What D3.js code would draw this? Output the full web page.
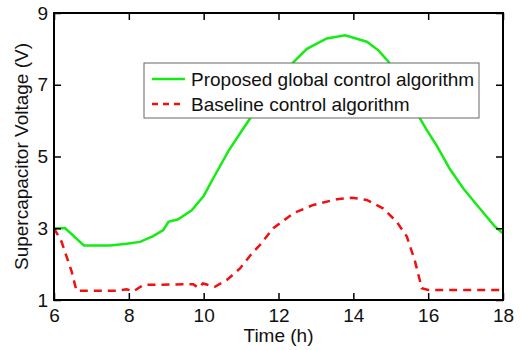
<!DOCTYPE html>
<html>
<head>
<meta charset="utf-8">
<script src="https://cdn.jsdelivr.net/npm/d3@7"></script>
<style>
  body { margin: 0; background: #fff; }
  text { font-family: "Liberation Sans", Arial, Helvetica, sans-serif; fill: #111; }
</style>
</head>
<body>
<div class="chart"></div>
<script>
// values
const proposedTime = [6, 6.3, 6.8, 7.5, 7.94, 8.3, 8.65, 8.92, 9.06, 9.32, 9.68, 10.0, 10.26, 10.66, 10.97, 11.24, 11.8, 12.4, 12.76, 13.29, 13.78, 14.36, 14.67, 14.94, 15.4, 15.78, 15.96, 16.23, 16.58, 16.94, 17.38, 17.79, 18.0]
const proposedVolt = [3.0, 3.0, 2.52, 2.52, 2.57, 2.62, 2.78, 2.95, 3.18, 3.25, 3.5, 3.9, 4.4, 5.15, 5.64, 6.06, 6.85, 7.63, 8.0, 8.29, 8.38, 8.2, 7.96, 7.64, 6.9, 6.06, 5.74, 5.3, 4.65, 4.11, 3.55, 3.04, 2.86]

const baselineTime = [6, 6.2, 6.47, 6.6, 7.67, 7.94, 8.12, 8.39, 9.72, 9.86, 9.98, 10.3, 10.62, 10.97, 11.33, 11.5, 11.86, 12.4, 12.93, 13.56, 13.96, 14.36, 14.8, 15.16, 15.43, 15.65, 15.83, 16.0, 18]
const baselineVolt = [3.0, 2.63, 1.8, 1.26, 1.26, 1.3, 1.24, 1.42, 1.44, 1.34, 1.46, 1.37, 1.56, 1.88, 2.35, 2.53, 3.0, 3.42, 3.65, 3.81, 3.85, 3.79, 3.55, 3.18, 2.77, 2.07, 1.33, 1.28, 1.28]

const xTicks = [6, 8, 10, 12, 14, 16, 18]
const yTicks = [1, 3, 5, 7, 9]
const legendLabels = ['Proposed global control algorithm', 'Baseline control algorithm']

const W = 521, H = 350
const margin = {top: 13, right: 18, bottom: 50, left: 54}
const width = W - margin.left - margin.right
const height = H - margin.top - margin.bottom
const fontSize = '19px'
const green = '#14ec14'
const red = '#f01010'

const svg = d3.select('.chart')
  .append('svg')
  .attr('width', W)
  .attr('height', H)

const g = svg.append('g')
  .attr('transform', `translate(${margin.left},${margin.top})`)

const x = d3.scaleLinear().domain([6, 18]).range([0, width])
const y = d3.scaleLinear().domain([1, 9]).range([height, 0])

const line = d3.line()
  .x(d => x(d[0]))
  .y(d => y(d[1]))

const proposed = d3.zip(proposedTime, proposedVolt)
const baseline = d3.zip(baselineTime, baselineVolt)

// curves
g.append('path')
  .datum(proposed)
  .attr('d', line)
  .attr('fill', 'none')
  .attr('stroke', green)
  .attr('stroke-width', 2.5)

g.append('path')
  .datum(baseline)
  .attr('d', line)
  .attr('fill', 'none')
  .attr('stroke', red)
  .attr('stroke-width', 2.5)
  .attr('stroke-dasharray', '8,6')

// axes, ticks pointing inward
const tickLen = 7
const axisStyle = sel => {
  sel.select('.domain').remove()
  sel.selectAll('line').attr('stroke', '#000').attr('stroke-width', 1.5)
  sel.selectAll('text').style('font-size', fontSize).attr('fill', '#111')
}

g.append('g')
  .attr('transform', `translate(0,${height})`)
  .call(d3.axisBottom(x).tickValues(xTicks).tickSize(-tickLen).tickPadding(9))
  .call(axisStyle)

g.append('g')
  .call(d3.axisTop(x).tickValues(xTicks).tickSize(-tickLen).tickFormat(''))
  .call(axisStyle)

g.append('g')
  .call(d3.axisLeft(y).tickValues(yTicks).tickSize(-tickLen).tickPadding(6))
  .call(axisStyle)

g.append('g')
  .attr('transform', `translate(${width},0)`)
  .call(d3.axisRight(y).tickValues(yTicks).tickSize(-tickLen).tickFormat(''))
  .call(axisStyle)

// frame
g.append('rect')
  .attr('width', width)
  .attr('height', height)
  .attr('fill', 'none')
  .attr('stroke', '#000')
  .attr('stroke-width', 2)

// axis titles
svg.append('text')
  .attr('x', margin.left + width / 2)
  .attr('y', 342)
  .attr('text-anchor', 'middle')
  .style('font-size', fontSize)
  .text('Time (h)')

svg.append('text')
  .attr('transform', `translate(28,${margin.top + height / 2}) rotate(-90)`)
  .attr('text-anchor', 'middle')
  .style('font-size', fontSize)
  .text('Supercapacitor Voltage (V)')

// legend
const legend = svg.append('g')
  .attr('class', 'legend')
  .attr('transform', 'translate(144,63)')

legend.append('rect')
  .attr('width', 335)
  .attr('height', 55)
  .attr('fill', '#fff')
  .attr('stroke', '#666')
  .attr('stroke-width', 1)

const legendItems = legend.selectAll('g.item')
  .data(legendLabels)
  .enter().append('g')
    .attr('class', 'item')
    .attr('transform', (d, i) => `translate(0,${16 + i * 25})`)

legendItems.append('line')
  .attr('x1', 8)
  .attr('x2', 41)
  .attr('stroke', (d, i) => i === 0 ? green : red)
  .attr('stroke-width', 2.5)
  .attr('stroke-dasharray', (d, i) => i === 0 ? null : '6,5')

legendItems.append('text')
  .attr('x', 47)
  .attr('dy', '0.35em')
  .style('font-size', fontSize)
  .text(d => d)
</script>
</body>
</html>
